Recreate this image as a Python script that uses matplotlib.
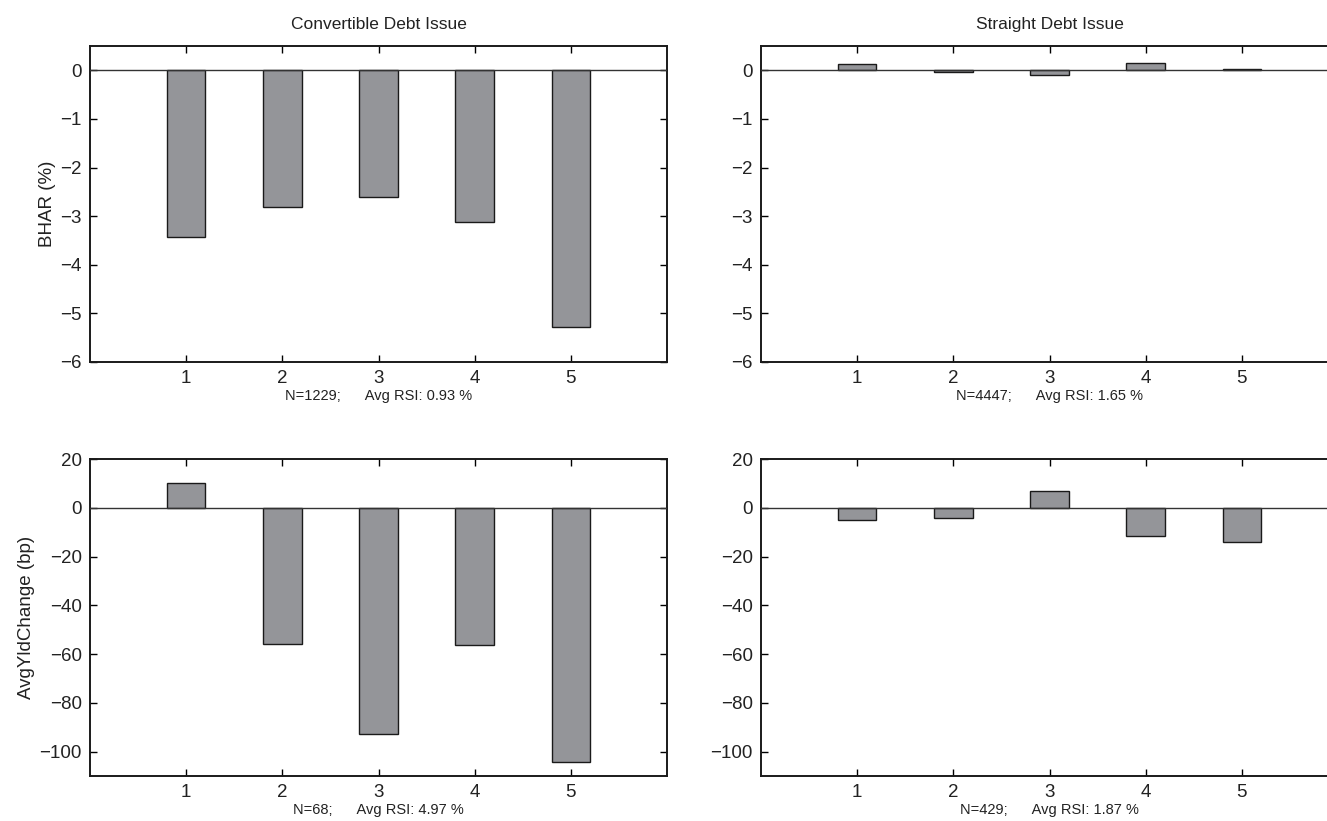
import numpy as np
import matplotlib
matplotlib.use('Agg')
import matplotlib.pyplot as plt

plt.rcParams['font.family'] = ['Liberation Sans', 'DejaVu Sans']

# quintiles
groups = [1, 2, 3, 4, 5]

# BHAR (%) by group
bhar_conv = [-3.43, -2.81, -2.61, -3.13, -5.27]
bhar_straight = [0.13, -0.03, -0.10, 0.15, 0.03]

# average yield change (bp) by group
yld_conv = [10.2, -55.9, -92.7, -56.3, -104.2]
yld_straight = [-4.9, -4.0, 7.0, -11.6, -13.9]

titles = ['Convertible Debt Issue', 'Straight Debt Issue']
xlabels = [['N=1229;      Avg RSI: 0.93 %', 'N=4447;      Avg RSI: 1.65 %'],
           ['N=68;      Avg RSI: 4.97 %', 'N=429;      Avg RSI: 1.87 %']]
ylabels = ['BHAR (%)', 'AvgYldChange (bp)']

W, H = 1327, 821
fig = plt.figure(figsize=(W / 100, H / 100), dpi=100)

bar_color = '#949599'

def make_axes(px_left, px_top, px_bottom):
    # axes given in pixel coordinates of the final image
    return fig.add_axes([px_left / W, (H - px_bottom) / H,
                         577 / W, (px_bottom - px_top) / H])

panels = [
    (make_axes(90, 46, 362), bhar_conv, (-6, 0.5), np.arange(-6, 1, 1)),
    (make_axes(761, 46, 362), bhar_straight, (-6, 0.5), np.arange(-6, 1, 1)),
    (make_axes(90, 459, 776), yld_conv, (-110, 20), np.arange(-100, 21, 20)),
    (make_axes(761, 459, 776), yld_straight, (-110, 20), np.arange(-100, 21, 20)),
]

for i, (ax, vals, ylim, yticks) in enumerate(panels):
    row, col = divmod(i, 2)
    ax.bar(groups, vals, width=0.4, color=bar_color, edgecolor='#1a1a1a',
           linewidth=1.0, zorder=2)
    ax.axhline(0, color='#333333', linewidth=1.0, zorder=3)
    ax.set_xlim(0, 6)
    ax.set_ylim(*ylim)
    ax.set_xticks(groups)
    ax.set_yticks(yticks)
    ax.tick_params(direction='in', top=True, right=True, length=5,
                   width=1.0, labelsize=13.5, pad=6, labelcolor='#222222')
    for sp in ax.spines.values():
        sp.set_linewidth(1.4)
        sp.set_color('#1a1a1a')
    ax.set_xlabel(xlabels[row][col], fontsize=10.5, labelpad=1, color='#222222')
    if col == 0:
        ax.set_ylabel(ylabels[row], fontsize=13.5, labelpad=3, color='#222222')
    if row == 0:
        ax.set_title(titles[col], fontsize=12.5, pad=12, color='#222222')

fig.savefig('out.png', dpi=100)
